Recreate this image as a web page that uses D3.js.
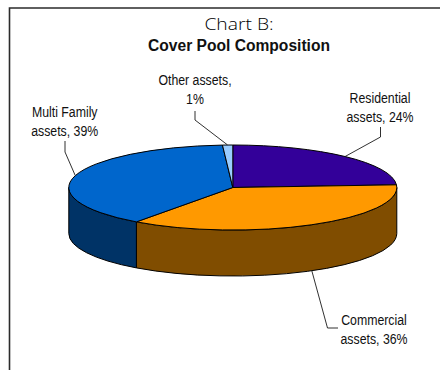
<!DOCTYPE html>
<html>
<head>
<meta charset="utf-8">
<style>
  html, body { margin: 0; padding: 0; background: #fff; }
  svg { display: block; }
  text { fill: #111; text-anchor: middle; }
  .label { font-family: "Liberation Sans", sans-serif; font-size: 14.5px; }
</style>
<script src="https://cdn.jsdelivr.net/npm/d3@7"></script>
</head>
<body>
<svg id="chart" width="440" height="370"></svg>
<script>
// Cover pool shares, in percent, clockwise from twelve o'clock
const categories = ["Residential assets", "Commercial assets", "Multi Family assets", "Other assets"];
const shares = [24, 36, 39, 1];
const labelLines = [
  ["Residential", "assets, 24%"],
  ["Commercial", "assets, 36%"],
  ["Multi Family", "assets, 39%"],
  ["Other assets,", "1%"]
];
const topColors = ["#330099", "#FF9900", "#0066CC", "#99CCFF"];
const sideColors = ["#1f005c", "#804D00", "#003366", "#5c7a99"];

// Tilted disc geometry
const cx = 232.8, cy = 187.5, rx = 164, ry = 42.5, depth = 46;

// Label placement: text centre, first baseline and the leader's elbows
const labelLayout = [
  { x: 380, y: 103, elbows: [[380.5, 137], [380.5, 127]] },
  { x: 374, y: 325, elbows: [[327.5, 328], [338, 328]] },
  { x: 64.7, y: 117, elbows: [[65, 152], [65, 141]] },
  { x: 195, y: 85, elbows: [[195, 120], [195, 111]] }
];
// Labels are set in a condensed cut of the face, the heading in an extended one
const labelCondense = 0.85;
const headingExtend = 1.17;

const svg = d3.select("#chart");

// Frame open to the right and at the bottom
svg.append("path")
  .attr("d", d3.line()([[9.5, 370], [9.5, 8], [440, 8]]))
  .attr("fill", "none").attr("stroke", "#2b2b2b").attr("stroke-width", 1.6);

svg.append("text")
  .attr("transform", `translate(239,30) scale(${headingExtend},1)`)
  .style("font-family", '"Open Sans", sans-serif')
  .style("font-size", "16.5px").style("font-weight", 300)
  .style("fill", "#000")
  .text("Chart B:");
svg.append("text").attr("x", 239).attr("y", 50.5)
  .style("font-family", '"Liberation Sans", sans-serif')
  .style("font-size", "15.6px").style("font-weight", 700)
  .text("Cover Pool Composition");

const arcs = d3.pie().sort(null).value(d => d)(shares);

// Point on the disc's rim at a clockwise angle from the top
const rim = (a, drop = 0) => [cx + rx * Math.sin(a), cy - ry * Math.cos(a) + drop];

// The disc is drawn in a unit circle and squashed into an ellipse
const disc = svg.append("g").attr("transform", `translate(${cx},${cy}) scale(${rx},${ry})`);
const unitDepth = depth / ry;

// Visible wall: only the part of each slice on the near half of the rim
const wallPath = (a0, a1) => {
  const start = Math.max(a0, Math.PI / 2), end = Math.min(a1, 3 * Math.PI / 2);
  if (end <= start) return null;
  const p = d3.path();
  const toCanvas = a => a - Math.PI / 2;
  p.arc(0, 0, 1, toCanvas(start), toCanvas(end));
  p.lineTo(Math.cos(toCanvas(end)), Math.sin(toCanvas(end)) + unitDepth);
  p.arc(0, unitDepth, 1, toCanvas(end), toCanvas(start), true);
  p.closePath();
  return p.toString();
};

disc.selectAll("path.wall")
  .data(arcs.filter(d => wallPath(d.startAngle, d.endAngle)))
  .join("path")
  .attr("class", "wall")
  .attr("d", d => wallPath(d.startAngle, d.endAngle))
  .attr("fill", d => sideColors[d.index])
  .attr("stroke", "#000").attr("stroke-width", 1)
  .attr("stroke-linejoin", "round")
  .attr("vector-effect", "non-scaling-stroke");

const unitArc = d3.arc().innerRadius(0).outerRadius(1);
disc.selectAll("path.slice")
  .data(arcs)
  .join("path")
  .attr("class", "slice")
  .attr("d", unitArc)
  .attr("fill", d => topColors[d.index])
  .attr("stroke", "#000").attr("stroke-width", 1)
  .attr("stroke-linejoin", "round")
  .attr("vector-effect", "non-scaling-stroke");

// Leaders run from the middle of each slice's rim out to its label
arcs.forEach((d, i) => {
  const mid = (d.startAngle + d.endAngle) / 2;
  const nearSide = Math.cos(mid) < 0 && Math.abs(Math.sin(mid)) < 1;
  const start = rim(mid, nearSide ? depth : 0);
  svg.append("path")
    .attr("d", d3.line()([start, ...labelLayout[i].elbows]))
    .attr("fill", "none").attr("stroke", "#1a1a1a").attr("stroke-width", 0.9);
  const text = svg.append("text").attr("class", "label")
    .attr("transform", `translate(${labelLayout[i].x},${labelLayout[i].y}) scale(${labelCondense},1)`);
  labelLines[i].forEach((line, k) => {
    text.append("tspan").attr("x", 0).attr("y", k * 18.7).text(line);
  });
});
</script>
</body>
</html>
